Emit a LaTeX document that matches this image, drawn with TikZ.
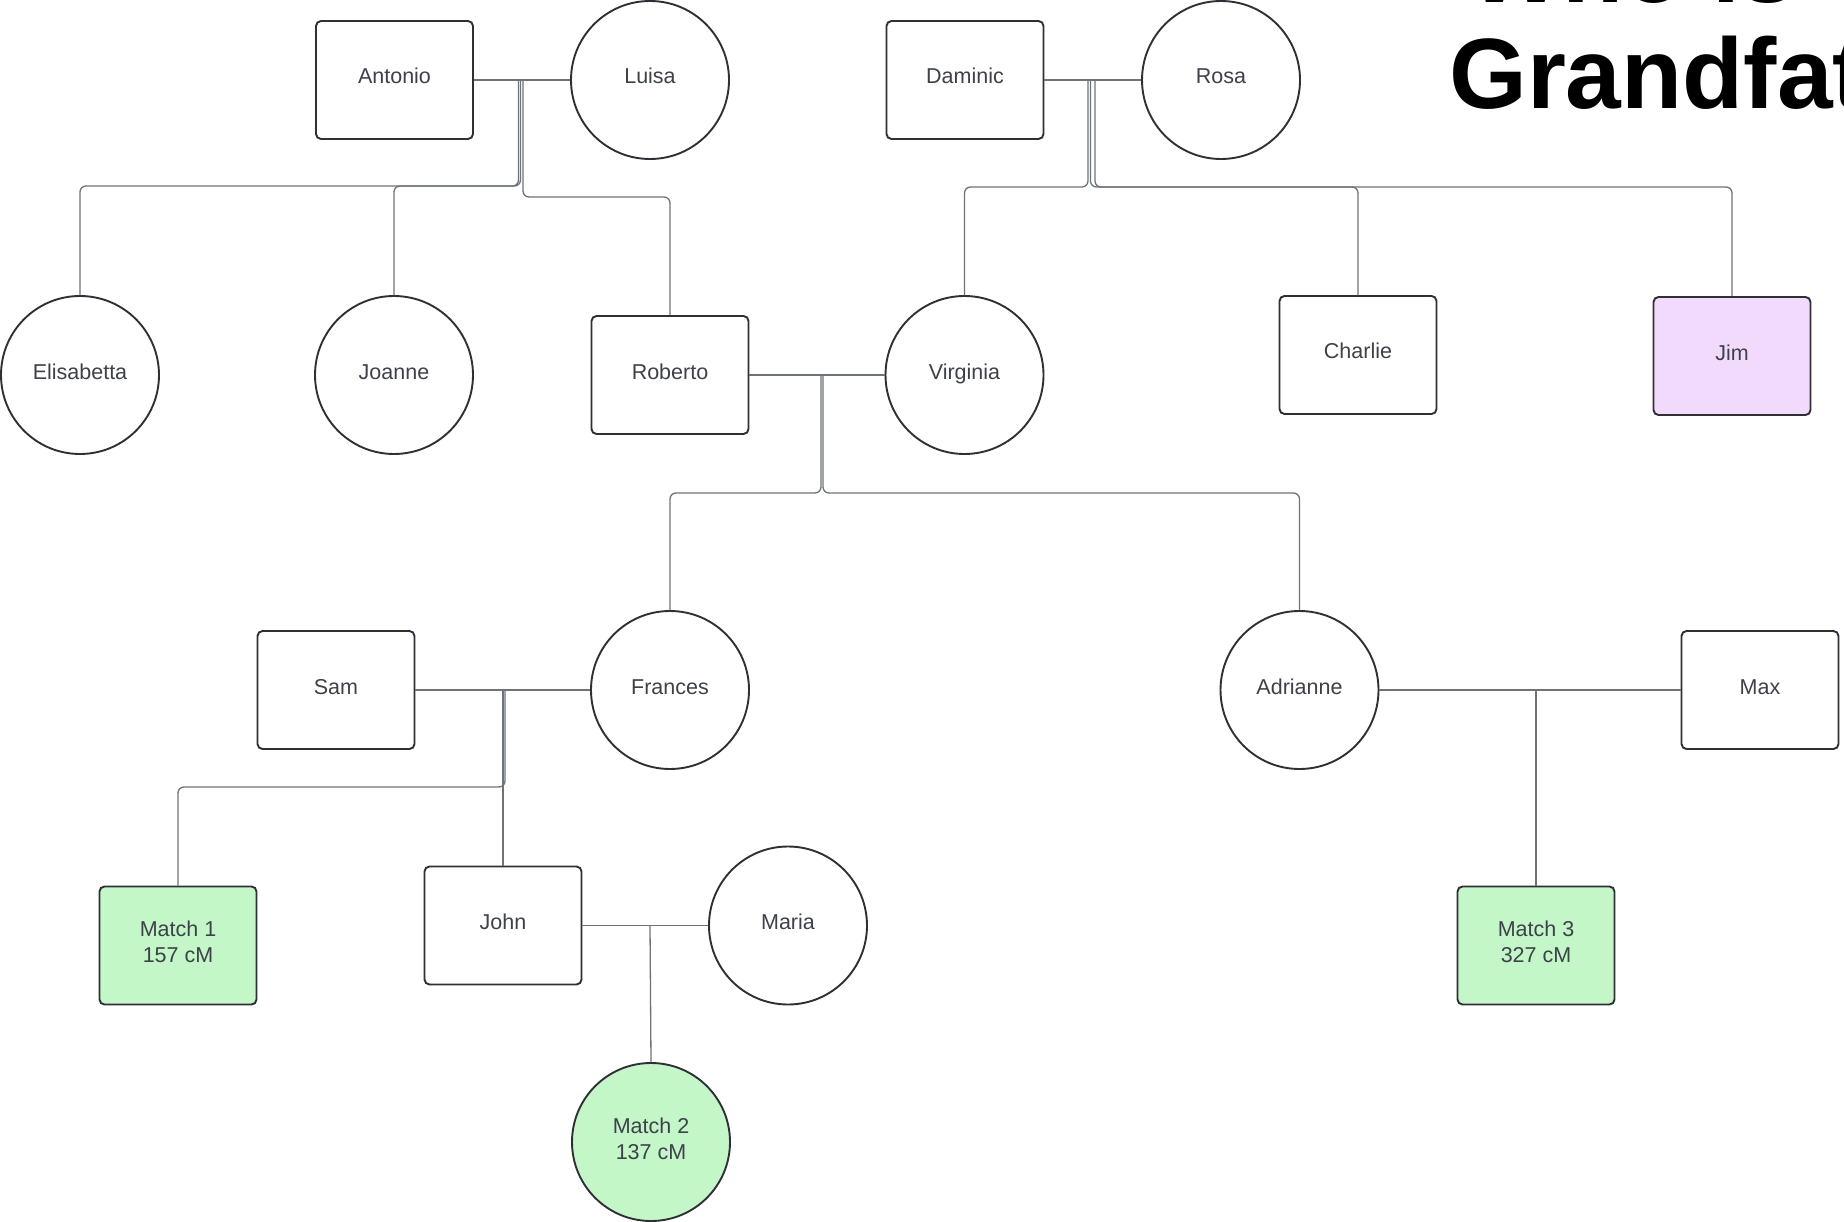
\documentclass[tikz,border=0pt]{standalone}
\usepackage{fontspec}
\setmainfont{Liberation Sans}
\definecolor{nodeline}{HTML}{2E3035}
\definecolor{txt}{HTML}{3D4149}
\definecolor{conn}{HTML}{6E737A}
\definecolor{matchgreen}{HTML}{C3F7C8}
\definecolor{jimpurple}{HTML}{F2DAFC}
\begin{document}
\begin{tikzpicture}[x=1pt,y=-1pt,
  person/.style={draw=nodeline, line width=1.9pt, text=txt, font=\fontsize{21.5}{26}\selectfont, align=center, inner sep=0pt, fill=white, text height=15.4pt, text depth=7.4pt},
  male/.style={person, rectangle, rounded corners=5pt, minimum width=157pt, minimum height=118pt},
  female/.style={person, circle, minimum size=158pt},
  twoline/.style={text height=41.4pt, text depth=7.4pt},
  couple/.style={draw=conn, line width=1.3pt},
  kid/.style={draw=conn, line width=1.3pt, rounded corners=6pt},
  title/.style={anchor=base west, inner sep=0pt, font=\fontsize{100}{100}\selectfont\bfseries, text=black}
]
\useasboundingbox (0,0) rectangle (1844,1222);
\fill[white] (0,0) rectangle (1844,1222);

% title
\node[title] (title1) at (1468,3) {Who is The};
\node[title] (title2) at (1449,109) {Grandfather};

% generation 1
\node[male]   (Antonio) at (394.5,80) {Antonio};
\node[female] (Luisa)   at (650,80)   {Luisa};
\node[male]   (Daminic) at (965,80)   {Daminic};
\node[female] (Rosa)    at (1221,80)  {Rosa};

% generation 2
\node[female] (Elisabetta) at (80,375)   {Elisabetta};
\node[female] (Joanne)     at (394,375)  {Joanne};
\node[male]   (Roberto)    at (670,375)  {Roberto};
\node[female] (Virginia)   at (964.5,375) {Virginia};
\node[male]   (Charlie)    at (1358,355) {Charlie};
\node[male, fill=jimpurple] (Jim) at (1732,356) {Jim};

% generation 3
\node[male]   (Sam)      at (336,690)    {Sam};
\node[female] (Frances)  at (670,690)    {Frances};
\node[female] (Adrianne) at (1299.5,690) {Adrianne};
\node[male]   (Max)      at (1760,690)   {Max};

% generation 4
\node[male, twoline, fill=matchgreen] (Match1) at (178,945.5) {Match 1\\157 cM};
\node[male]   (John)  at (503,925.5) {John};
\node[female] (Maria) at (788,925.5) {Maria};
\node[male, twoline, fill=matchgreen] (Match3) at (1536,945.5) {Match 3\\327 cM};

% generation 5
\node[female, twoline, fill=matchgreen] (Match2) at (651,1142) {Match 2\\137 cM};

% couple links
\draw[couple] (Antonio.east) -- (Luisa.west);
\draw[couple] (Daminic.east) -- (Rosa.west);
\draw[couple] (Roberto.east) -- (Virginia.west);
\draw[couple] (Sam.east) -- (Frances.west);
\draw[couple] (John.east) -- (Maria.west);
\draw[couple] (Adrianne.east) -- (Max.west);

% drop points
\coordinate (alA) at (518.5,80);
\coordinate (alB) at (520.5,80);
\coordinate (alC) at (523,80);
\coordinate (drA) at (1088,80);
\coordinate (drB) at (1090.5,80);
\coordinate (drC) at (1095,80);
\coordinate (rvA) at (821,376);
\coordinate (rvB) at (823,376);
\coordinate (sfA) at (503,691);
\coordinate (sfB) at (505,691);
\coordinate (jm)  at (650,926);
\coordinate (am)  at (1536,690);

% children of Antonio & Luisa
\draw[kid] (alA) -- ++(0,106) -| (Elisabetta.north);
\draw[kid] (alB) -- ++(0,106) -| (Joanne.north);
\draw[kid] (alC) -- ++(0,117) -| (Roberto.north);

% children of Daminic & Rosa
\draw[kid] (drA) -- ++(0,107) -| (Virginia.north);
\draw[kid] (drB) -- ++(0,107) -| (Charlie.north);
\draw[kid] (drC) -- ++(0,107) -| (Jim.north);

% children of Roberto & Virginia
\draw[kid] (rvA) -- ++(0,117) -| (Frances.north);
\draw[kid] (rvB) -- ++(0,117) -| (Adrianne.north);

% children of Sam & Frances
\draw[kid] (sfB) -- ++(0,96) -| (Match1.north);
\draw[kid] (sfA) -- (John.north);

% child of John & Maria
\draw[kid] (jm) -- (Match2.north);

% child of Adrianne & Max
\draw[kid] (am) -- (Match3.north);
\end{tikzpicture}
\end{document}
